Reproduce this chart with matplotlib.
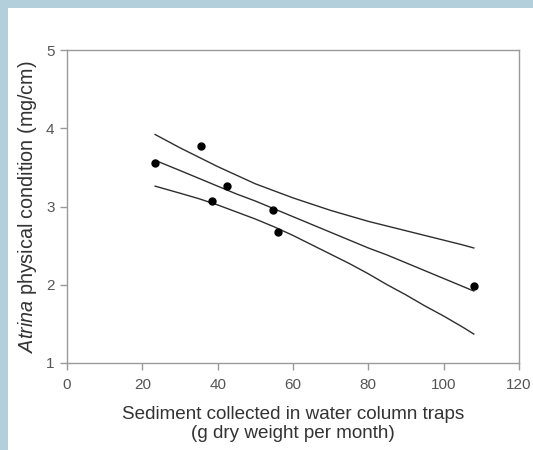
import matplotlib
matplotlib.use("Agg")
import matplotlib.pyplot as plt
import matplotlib.patches as patches

# measured points
sediment = [23.4, 35.6, 38.4, 42.6, 54.7, 55.9, 108.0]
condition = [3.55, 3.77, 3.07, 3.26, 2.95, 2.67, 1.98]

# regression line and 95% confidence band
fit_x = [23.4, 30, 35, 40, 45, 50, 55, 60, 65, 70, 75, 80, 85, 90, 95, 100, 105, 108]
fit_y = [3.59, 3.46, 3.36, 3.26, 3.16, 3.07, 2.97, 2.87, 2.77, 2.67, 2.57, 2.47,
         2.38, 2.28, 2.18, 2.08, 1.98, 1.92]
upper_y = [3.92, 3.75, 3.63, 3.51, 3.40, 3.29, 3.20, 3.11, 3.03, 2.95, 2.88, 2.81,
           2.75, 2.69, 2.63, 2.57, 2.51, 2.47]
lower_y = [3.26, 3.17, 3.10, 3.02, 2.93, 2.84, 2.74, 2.63, 2.51, 2.39, 2.27, 2.14,
           2.00, 1.87, 1.73, 1.60, 1.46, 1.37]

x_ticks = [0, 20, 40, 60, 80, 100, 120]
y_ticks = [1, 2, 3, 4, 5]

plt.rcParams["font.family"] = ["Liberation Sans", "DejaVu Sans"]
plt.rcParams["mathtext.fontset"] = "custom"
plt.rcParams["mathtext.it"] = "Liberation Sans:italic"
plt.rcParams["mathtext.rm"] = "Liberation Sans"

fig = plt.figure(figsize=(5.33, 4.5), dpi=100)
fig.patch.set_facecolor("#b4cfdc")
# white panel inside the blue frame
panel = patches.Rectangle(
    (8 / 533, 0), 1 - 8 / 533, 1 - 8 / 450,
    transform=fig.transFigure, facecolor="white", edgecolor="none", zorder=-10,
)
fig.patches.append(panel)

ax = fig.add_axes([67 / 533, 1 - 363 / 450, (519 - 67) / 533, (363 - 50) / 450])
ax.set_facecolor("white")

line_kw = dict(color="#2e2e2e", linewidth=1.0)
ax.plot(fit_x, fit_y, **line_kw)
ax.plot(fit_x, upper_y, **line_kw)
ax.plot(fit_x, lower_y, **line_kw)
ax.plot(sediment, condition, "o", color="black", markersize=5, zorder=3)

ax.set_xlim(0, 120)
ax.set_ylim(1, 5)
ax.set_xticks(x_ticks)
ax.set_yticks(y_ticks)

for sp in ax.spines.values():
    sp.set_color("#9a9a9a")
    sp.set_linewidth(1.0)
ax.tick_params(direction="out", length=5, width=1.0, color="#9a9a9a",
               labelcolor="#555555", labelsize=11)
ax.tick_params(axis="x", pad=6)
ax.tick_params(axis="y", pad=4)

ax.set_xlabel("Sediment collected in water column traps\n(g dry weight per month)",
              fontsize=13.6, color="#333333", linespacing=1.2)
ax.xaxis.set_label_coords(0.5, -0.136)
ax.set_ylabel(r"$\it{Atrina}$ physical condition (mg/cm)",
              fontsize=14.2, color="#333333")
ax.yaxis.set_label_coords(-0.062, 0.5)

fig.savefig("out.png", dpi=100, facecolor=fig.get_facecolor())
